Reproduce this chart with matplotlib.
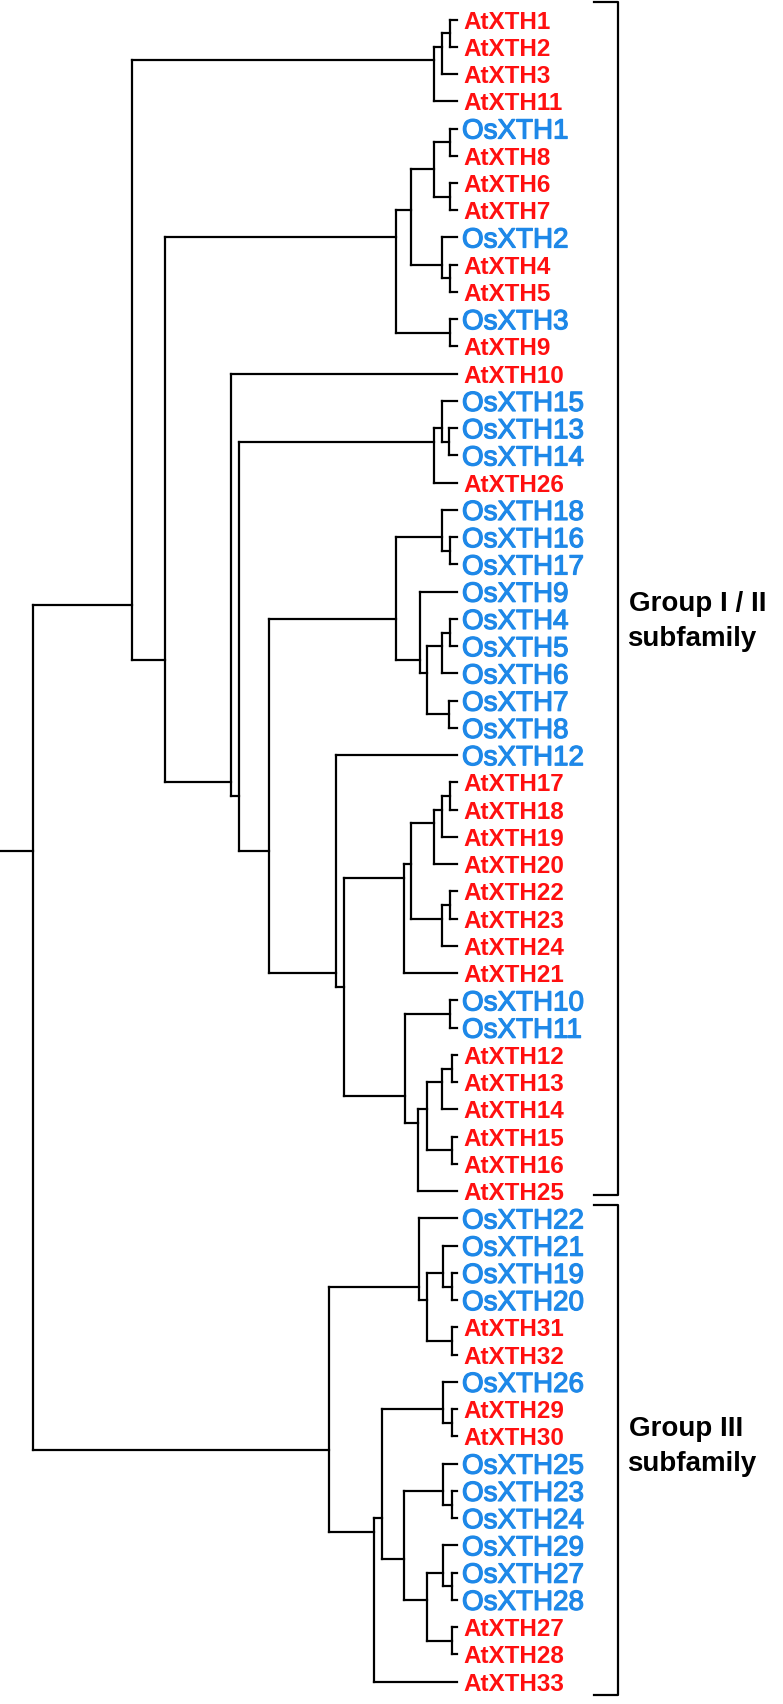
import matplotlib
matplotlib.use("Agg")
import matplotlib.pyplot as plt
import matplotlib.patheffects as pe

# leaf order, top to bottom
leaves = ["AtXTH1", "AtXTH2", "AtXTH3", "AtXTH11", "OsXTH1", "AtXTH8", "AtXTH6", "AtXTH7",
          "OsXTH2", "AtXTH4", "AtXTH5", "OsXTH3", "AtXTH9", "AtXTH10", "OsXTH15", "OsXTH13",
          "OsXTH14", "AtXTH26", "OsXTH18", "OsXTH16", "OsXTH17", "OsXTH9", "OsXTH4", "OsXTH5",
          "OsXTH6", "OsXTH7", "OsXTH8", "OsXTH12", "AtXTH17", "AtXTH18", "AtXTH19", "AtXTH20",
          "AtXTH22", "AtXTH23", "AtXTH24", "AtXTH21", "OsXTH10", "OsXTH11", "AtXTH12", "AtXTH13",
          "AtXTH14", "AtXTH15", "AtXTH16", "AtXTH25",
          "OsXTH22", "OsXTH21", "OsXTH19", "OsXTH20", "AtXTH31", "AtXTH32", "OsXTH26", "AtXTH29",
          "AtXTH30", "OsXTH25", "OsXTH23", "OsXTH24", "OsXTH29", "OsXTH27", "OsXTH28", "AtXTH27",
          "AtXTH28", "AtXTH33"]

tip_depth = 457

# internal nodes: (name, children, depth)
merges = [
    ("n1", ["AtXTH1", "AtXTH2"], 450),
    ("n2", ["n1", "AtXTH3"], 441.7),
    ("n3", ["n2", "AtXTH11"], 434),
    ("n4", ["OsXTH1", "AtXTH8"], 450),
    ("n5", ["AtXTH6", "AtXTH7"], 450),
    ("n6", ["n4", "n5"], 434),
    ("n7", ["AtXTH4", "AtXTH5"], 450),
    ("n8", ["OsXTH2", "n7"], 441.7),
    ("n9", ["n6", "n8"], 411.3),
    ("n10", ["OsXTH3", "AtXTH9"], 450),
    ("n11", ["n9", "n10"], 395.7),
    ("n12", ["OsXTH13", "OsXTH14"], 449),
    ("n13", ["OsXTH15", "n12"], 441.7),
    ("n14", ["n13", "AtXTH26"], 434),
    ("n15", ["OsXTH16", "OsXTH17"], 450),
    ("n16", ["OsXTH18", "n15"], 441.7),
    ("n17", ["OsXTH4", "OsXTH5"], 450),
    ("n18", ["n17", "OsXTH6"], 441.7),
    ("n19", ["OsXTH7", "OsXTH8"], 449),
    ("n20", ["n18", "n19"], 426.7),
    ("n21", ["OsXTH9", "n20"], 420),
    ("n22", ["n16", "n21"], 395.7),
    ("n23", ["AtXTH17", "AtXTH18"], 450),
    ("n24", ["n23", "AtXTH19"], 441.7),
    ("n25", ["n24", "AtXTH20"], 434),
    ("n26", ["AtXTH22", "AtXTH23"], 450),
    ("n27", ["n26", "AtXTH24"], 441.7),
    ("n28", ["n25", "n27"], 411),
    ("n29", ["n28", "AtXTH21"], 404),
    ("n30", ["OsXTH10", "OsXTH11"], 450),
    ("n31", ["AtXTH12", "AtXTH13"], 452),
    ("n32", ["n31", "AtXTH14"], 442),
    ("n33", ["AtXTH15", "AtXTH16"], 452),
    ("n34", ["n32", "n33"], 427),
    ("n35", ["n34", "AtXTH25"], 418),
    ("n36", ["n30", "n35"], 405),
    ("n37", ["n29", "n36"], 344),
    ("n38", ["OsXTH12", "n37"], 336),
    ("n39", ["n22", "n38"], 269),
    ("n40", ["n14", "n39"], 239),
    ("n41", ["AtXTH10", "n40"], 231),
    ("n42", ["n11", "n41"], 165),
    ("n43", ["n3", "n42"], 132),
    ("g1", ["OsXTH19", "OsXTH20"], 452),
    ("g2", ["OsXTH21", "g1"], 443),
    ("g3", ["AtXTH31", "AtXTH32"], 452),
    ("g4", ["g2", "g3"], 427),
    ("g5", ["OsXTH22", "g4"], 419),
    ("g6", ["AtXTH29", "AtXTH30"], 452),
    ("g7", ["OsXTH26", "g6"], 443),
    ("g8", ["OsXTH23", "OsXTH24"], 452),
    ("g9", ["OsXTH25", "g8"], 443),
    ("g10", ["OsXTH27", "OsXTH28"], 452),
    ("g11", ["OsXTH29", "g10"], 443),
    ("g12", ["AtXTH27", "AtXTH28"], 452),
    ("g13", ["g11", "g12"], 427),
    ("g14", ["g9", "g13"], 404),
    ("g15", ["g7", "g14"], 382),
    ("g16", ["g15", "AtXTH33"], 374),
    ("g17", ["g5", "g16"], 329),
    ("root", ["n43", "g17"], 33),
]

# subfamily brackets: label, first leaf, last leaf
groups = [("Group I / II", "subfamily", "AtXTH1", "AtXTH25"),
          ("Group III", "subfamily", "OsXTH22", "AtXTH33")]

red = "#ff1010"
blue = "#1e88e8"
lw = 1.6

fig = plt.figure(figsize=(7.83, 17.04), dpi=100)
ax = fig.add_axes([0, 0, 1, 1])
ax.set_xlim(0, 783)
ax.set_ylim(61.82, -0.716)
ax.axis("off")

xpos = {}
span = {}
for i, name in enumerate(leaves):
    xpos[name] = tip_depth
    span[name] = (i, i)


def ypos(n):
    return (span[n][0] + span[n][1]) / 2.0


for name, kids, depth in merges:
    xpos[name] = depth
    span[name] = (min(span[k][0] for k in kids), max(span[k][1] for k in kids))
    ys = [ypos(k) for k in kids]
    ax.plot([depth, depth], [min(ys), max(ys)], color="black", lw=lw, solid_capstyle="projecting")
    for k in kids:
        ax.plot([depth, xpos[k]], [ypos(k), ypos(k)], color="black", lw=lw, solid_capstyle="projecting")

# root stub
ax.plot([0, xpos["root"]], [ypos("root"), ypos("root")], color="black", lw=lw)

for i, name in enumerate(leaves):
    if name.startswith("At"):
        ax.text(tip_depth + 6, i, name, color=red, fontsize=17.5, fontweight="bold",
                family="Liberation Sans", va="center_baseline", ha="left")
    else:
        ax.text(tip_depth + 5, i, name, color=blue, fontsize=20,
                family="Liberation Sans", va="center_baseline", ha="left",
                path_effects=[pe.withStroke(linewidth=0.9, foreground=blue)])

pads = [(-0.64, 0.15), (-0.5, 0.5)]
label_y = [21.7, 52.0]
for (l1, l2, first, last), (p0, p1), ly in zip(groups, pads, label_y):
    top = leaves.index(first) + p0
    bot = leaves.index(last) + p1
    ax.plot([594, 618, 618, 594], [top, top, bot, bot], color="black", lw=lw)
    ax.text(629, ly, l1, fontsize=20, fontweight="bold", family="Liberation Sans",
            va="baseline", ha="left")
    ax.text(627, ly + 1.28, l2, fontsize=20, fontweight="bold", family="Liberation Sans",
            va="baseline", ha="left")

fig.savefig("out.png", dpi=100)
